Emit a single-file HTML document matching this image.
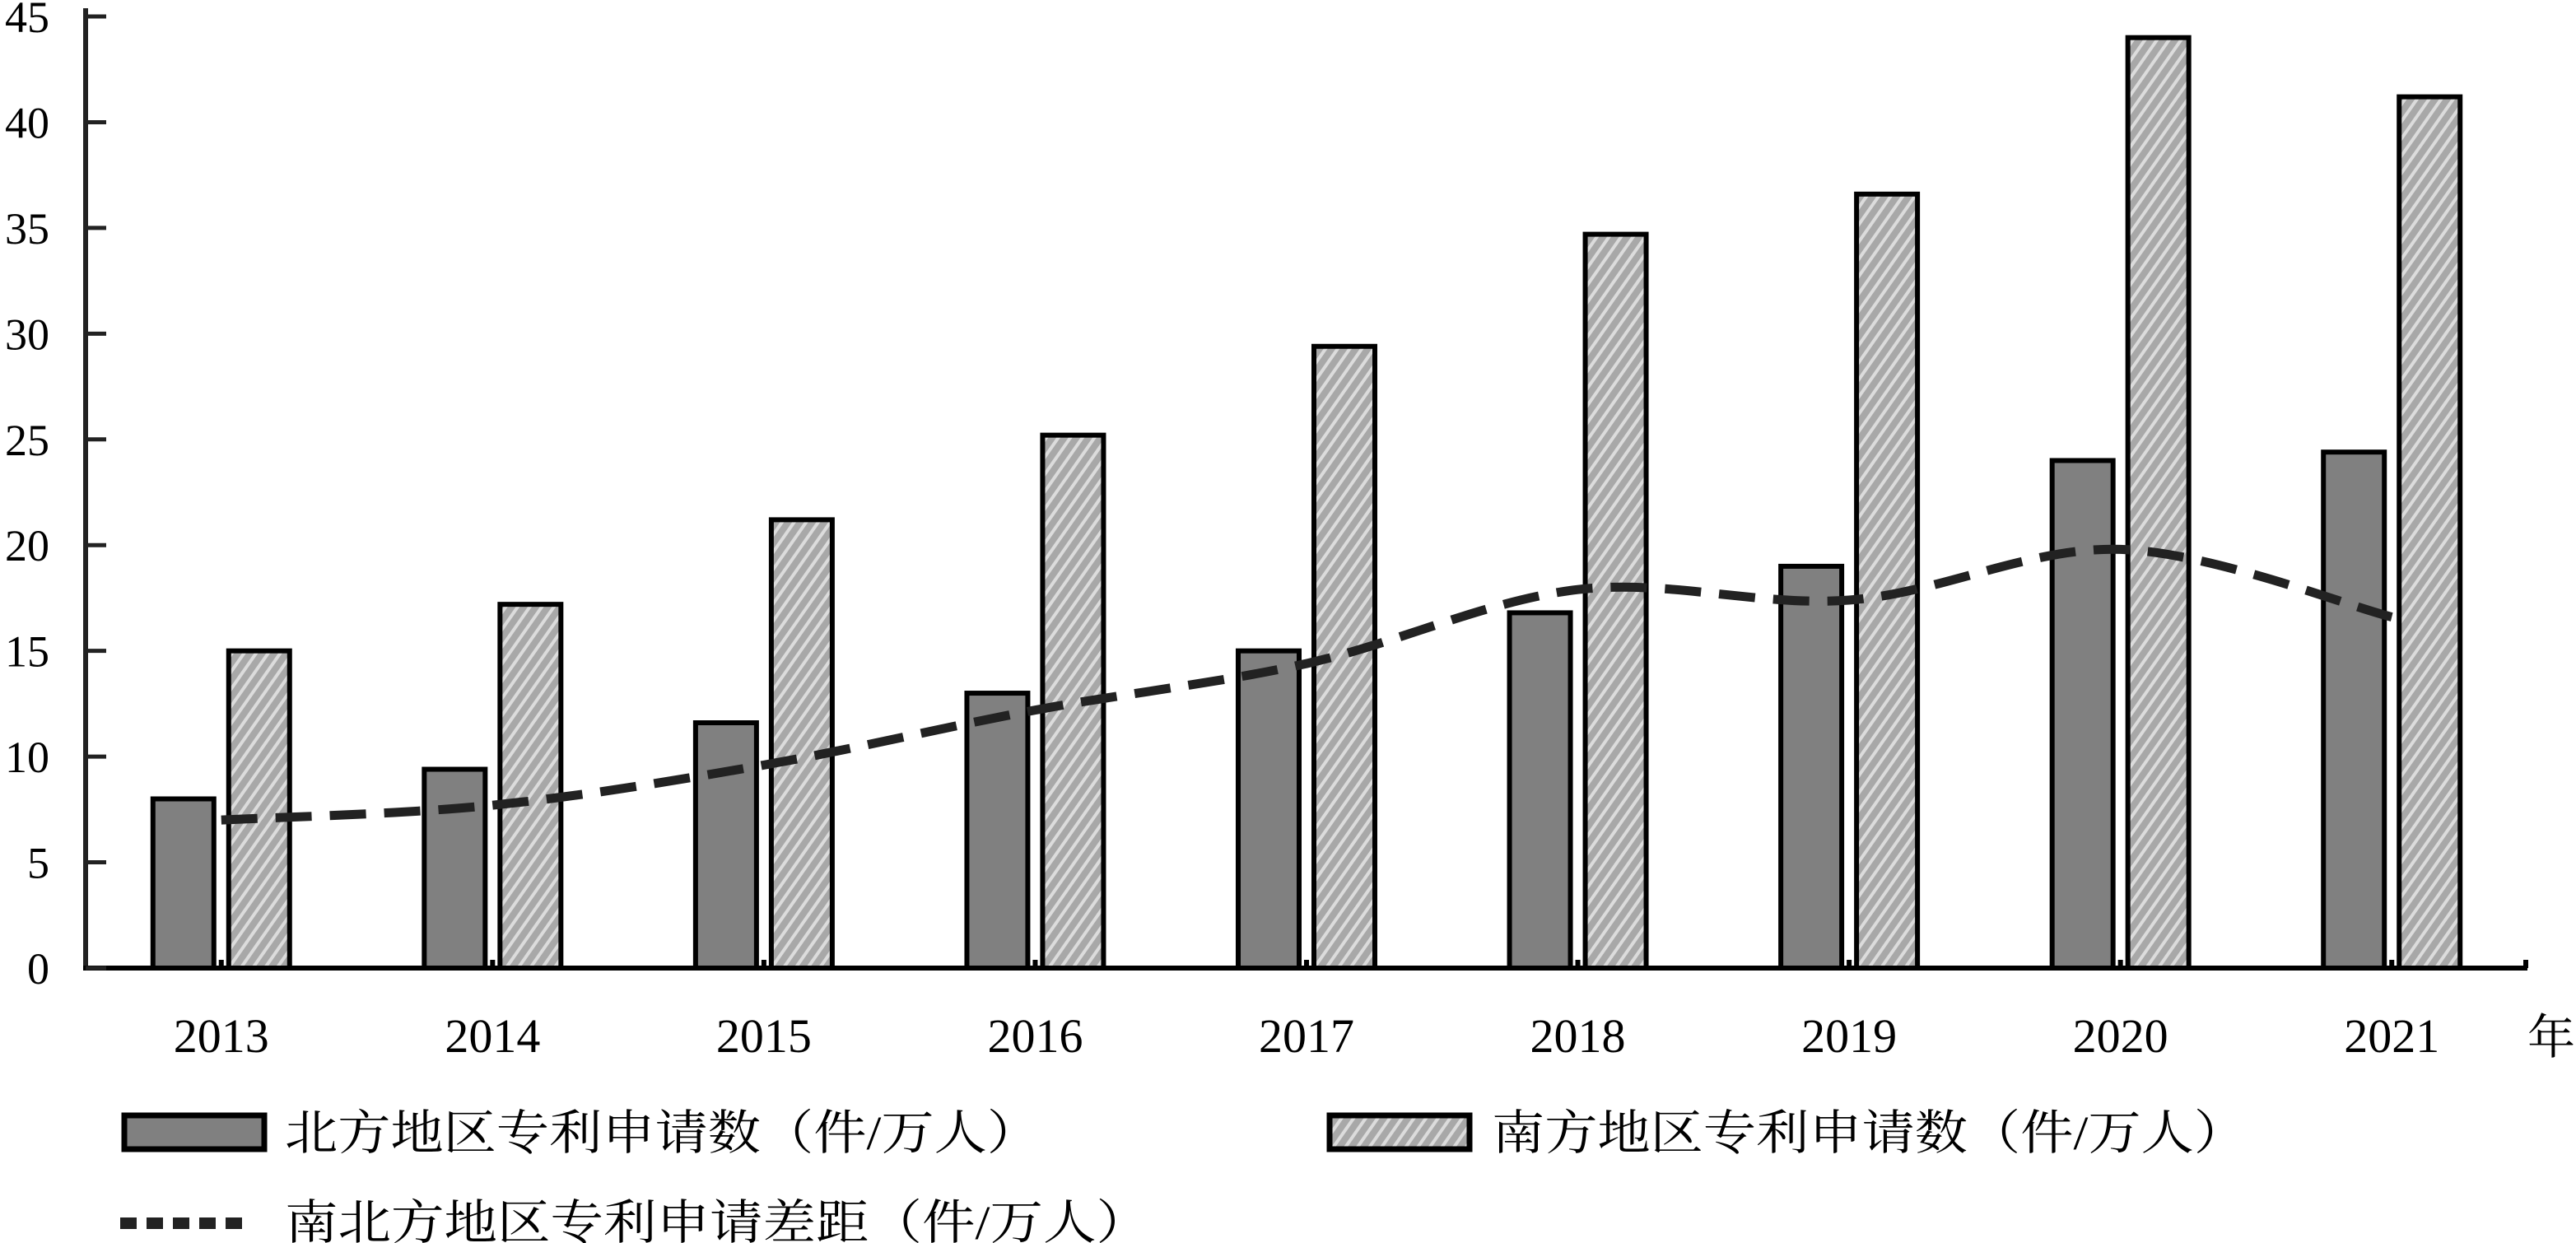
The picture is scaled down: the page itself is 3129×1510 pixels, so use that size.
<!DOCTYPE html>
<html><head><meta charset="utf-8"><style>
html,body{margin:0;padding:0;background:#fff;}
svg{display:block;}
</style></head><body>
<svg id="chart" width="3129" height="1510" viewBox="0 0 3129 1510" xmlns="http://www.w3.org/2000/svg">
<defs>
<pattern id="stripes" patternUnits="userSpaceOnUse" width="12" height="12" patternTransform="rotate(-55)">
<rect width="12" height="12" fill="#a8a8a8"/>
<rect width="12" height="4" fill="#dcdcdc"/>
</pattern>
</defs>
<g id="plot"></g>
<g id="legend">
<rect x="151" y="1355" width="170" height="41" fill="#808080" stroke="#000" stroke-width="7"/>
<text x="346" y="1396" font-size="58" textLength="917" lengthAdjust="spacingAndGlyphs" font-family="'Liberation Serif','Noto Serif CJK SC',serif">北方地区专利申请数（件/万人）</text>
<rect x="1615" y="1355" width="170" height="41" fill="url(#stripes)" stroke="#000" stroke-width="7"/>
<text x="1812" y="1396" font-size="58" textLength="917" lengthAdjust="spacingAndGlyphs" font-family="'Liberation Serif','Noto Serif CJK SC',serif">南方地区专利申请数（件/万人）</text>
<line x1="146" y1="1486" x2="305" y2="1486" stroke="#222" stroke-width="14" stroke-dasharray="20,12"/>
<text x="346" y="1505" font-size="58" textLength="1050" lengthAdjust="spacingAndGlyphs" font-family="'Liberation Serif','Noto Serif CJK SC',serif">南北方地区专利申请差距（件/万人）</text>
</g>
</svg>
<script>
const categories = ["2013","2014","2015","2016","2017","2018","2019","2020","2021"];
const northValues = [8.0, 9.4, 11.6, 13.0, 15.0, 16.8, 19.0, 24.0, 24.4];
const southValues = [15.0, 17.2, 21.2, 25.2, 29.4, 34.7, 36.6, 44.0, 41.2];
const gapValues = [7.0, 7.7, 9.6, 12.2, 14.4, 17.9, 17.4, 19.8, 16.6];
const yTicks = [0, 5, 10, 15, 20, 25, 30, 35, 40, 45];

const NS = "http://www.w3.org/2000/svg";
const plot = document.getElementById('plot');
const X0 = 104, X1 = 3070, Y0 = 1176, Y45 = 20;
const band = (X1 - X0) / categories.length;
const yScale = v => Y0 - v * (Y0 - Y45) / 45;
const xCenter = i => X0 + band * (i + 0.5);
const barW = 74, barGap = 18;

function mk(tag, attrs) {
  const e = document.createElementNS(NS, tag);
  for (const k in attrs) e.setAttribute(k, attrs[k]);
  plot.appendChild(e);
  return e;
}

// bars
categories.forEach((c, i) => {
  const cx = xCenter(i);
  const n = mk('rect', {x: cx - barGap/2 - barW, y: yScale(northValues[i]), width: barW, height: Y0 - yScale(northValues[i]), fill: '#808080', stroke: '#000', 'stroke-width': 6});
  
  
  const s = mk('rect', {x: cx + barGap/2, y: yScale(southValues[i]), width: barW, height: Y0 - yScale(southValues[i]), fill: 'url(#stripes)', stroke: '#000', 'stroke-width': 6});
  
  
  const t = mk('line', {x1: cx, y1: Y0, x2: cx, y2: Y0 - 10, stroke: '#000', 'stroke-width': 6});
  
  
  const lb = mk('text', {x: cx, y: 1278, 'font-size': 58, 'text-anchor': 'middle', 'font-family': "'Liberation Serif',serif"});
  lb.textContent = c;
  
  
});

// smooth dashed gap line (catmull-rom)
const pts = gapValues.map((v, i) => [xCenter(i), yScale(v)]);
let d = 'M' + pts[0][0] + ',' + pts[0][1];
for (let i = 0; i < pts.length - 1; i++) {
  const p0 = pts[Math.max(0, i-1)], p1 = pts[i], p2 = pts[i+1], p3 = pts[Math.min(pts.length-1, i+2)];
  const c1 = [p1[0] + (p2[0]-p0[0])/6, p1[1] + (p2[1]-p0[1])/6];
  const c2 = [p2[0] - (p3[0]-p1[0])/6, p2[1] - (p3[1]-p1[1])/6];
  d += ' C' + c1.join(',') + ' ' + c2.join(',') + ' ' + p2.join(',');
}
const gl = mk('path', {d: d, fill: 'none', stroke: '#222', 'stroke-width': 11, 'stroke-dasharray': '44,22'});



// axes
const ya = mk('line', {x1: X0, y1: 10, x2: X0, y2: Y0 + 3, stroke: '#222', 'stroke-width': 6});


const xa = mk('line', {x1: X0 - 3, y1: Y0, x2: X1, y2: Y0, stroke: '#000', 'stroke-width': 6});


const et = mk('line', {x1: X1 - 2, y1: Y0, x2: X1 - 2, y2: Y0 - 10, stroke: '#000', 'stroke-width': 6});



yTicks.forEach(v => {
  const y = yScale(v);
  const tk = mk('line', {x1: X0, y1: y, x2: X0 + 25, y2: y, stroke: '#222', 'stroke-width': 5});
  
  
  const lb = mk('text', {x: 60, y: y + 19, 'font-size': 54, 'text-anchor': 'end', 'font-family': "'Liberation Serif',serif"});
  lb.textContent = v;
  
  
});

const yr = mk('text', {x: 3070, y: 1280, 'font-size': 58, 'font-family': "'Liberation Serif','Noto Serif CJK SC',serif"});
yr.textContent = '年';


</script>
</body></html>
